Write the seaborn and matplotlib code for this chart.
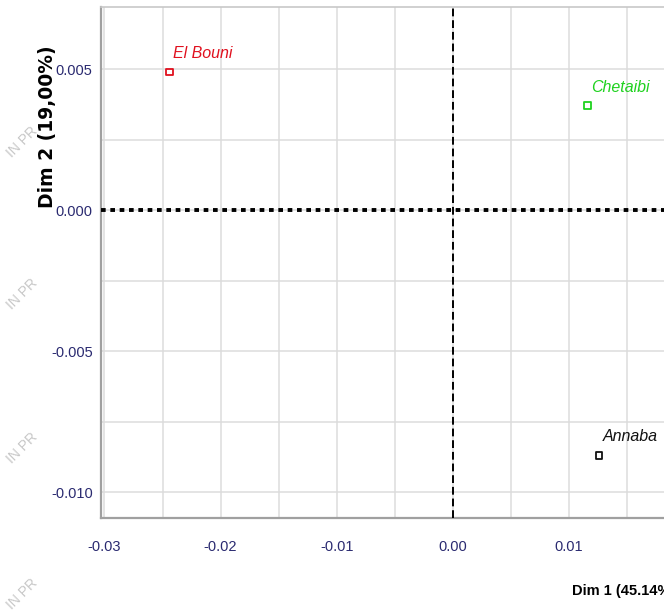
import matplotlib
matplotlib.use("Agg")
import matplotlib.pyplot as plt
import seaborn as sns
import pandas as pd
from matplotlib.ticker import MultipleLocator

sites = ["El Bouni", "Chetaibi", "Annaba"]
dim1 = [-0.0244, 0.0116, 0.0126]
dim2 = [0.0049, 0.0037, -0.0087]
site_colors = ["#e0101e", "#1fd21f", "#111111"]
x_ticks = [-0.03, -0.02, -0.01, 0.00, 0.01]
y_ticks = [0.005, 0.000, -0.005, -0.010]
x_label = "Dim 1 (45.14%)"
y_label = "Dim 2 (19,00%)"

df = pd.DataFrame({"site": sites, "dim1": dim1, "dim2": dim2})

sns.set_theme(style="white")
plt.rcParams["font.family"] = ["Liberation Sans", "DejaVu Sans"]

fig = plt.figure(figsize=(6.64, 6.12), dpi=100)
ax = fig.add_axes([101/664, 1-518/612, 1-101/664, (518-7)/612])

sns.scatterplot(data=df, x="dim1", y="dim2", hue="site", palette=dict(zip(sites, site_colors)),
                marker="s", s=22, legend=False, ax=ax, zorder=5)
coll = ax.collections[-1]
coll.set_facecolor("none")
coll.set_edgecolor(site_colors)
coll.set_linewidth(1.3)

for s, x, y, c in zip(sites, dim1, dim2, site_colors):
    ax.annotate(s, (x, y), xytext=(2.5, 8), textcoords="offset points",
                ha="left", va="bottom", color=c, fontsize=11.5, fontstyle="italic")

ax.set_xlim(-0.0303, 0.0182)
ax.set_ylim(-0.01092, 0.0072)
ax.xaxis.set_minor_locator(MultipleLocator(0.005))
ax.yaxis.set_minor_locator(MultipleLocator(0.0025))
ax.set_xticks(x_ticks)
ax.set_yticks(y_ticks)
ax.set_xticklabels([f"{v:.2f}" for v in x_ticks])
ax.set_yticklabels([f"{v:.3f}" for v in y_ticks])
ax.grid(True, which="both", color="#dcdcdc", linewidth=1.1)
ax.set_axisbelow(True)

ax.axhline(0, color="black", linestyle=(0, (1.2, 1.2)), linewidth=2.8, zorder=3)
ax.axvline(0, color="black", linestyle=(0, (4, 2)), linewidth=1.4, zorder=3)

for side in ["left", "bottom"]:
    ax.spines[side].set_color("#a0a0a0")
    ax.spines[side].set_linewidth(1.6)
ax.spines["top"].set_color("#c8c8c8")
ax.spines["top"].set_linewidth(1.2)
ax.spines["right"].set_visible(False)

ax.tick_params(axis="both", which="major", length=3, width=1, color="#7b7bd0",
               labelcolor="#2a2a70", labelsize=10.5)
ax.tick_params(axis="x", which="major", pad=13)
ax.tick_params(axis="y", which="major", pad=3)
ax.tick_params(axis="both", which="minor", length=0)
ax.set_xlabel("")
ax.set_ylabel("")

fig.text(48/664, 1-127/612, y_label, rotation=90, ha="center", va="center",
         fontsize=13.5, fontweight="bold", family=["DejaVu Sans"], color="black")
fig.text(572/664, 1-595/612, x_label, ha="left", va="baseline",
         fontsize=10.5, fontweight="bold", color="black")

for yy in [160, 312, 466, 612]:
    fig.text(14/664, 1-yy/612, "IN PR", rotation=45, rotation_mode="anchor",
             ha="left", va="bottom", fontsize=10, color="#c8c8c8", zorder=-1)

fig.savefig("out.png", dpi=100)
